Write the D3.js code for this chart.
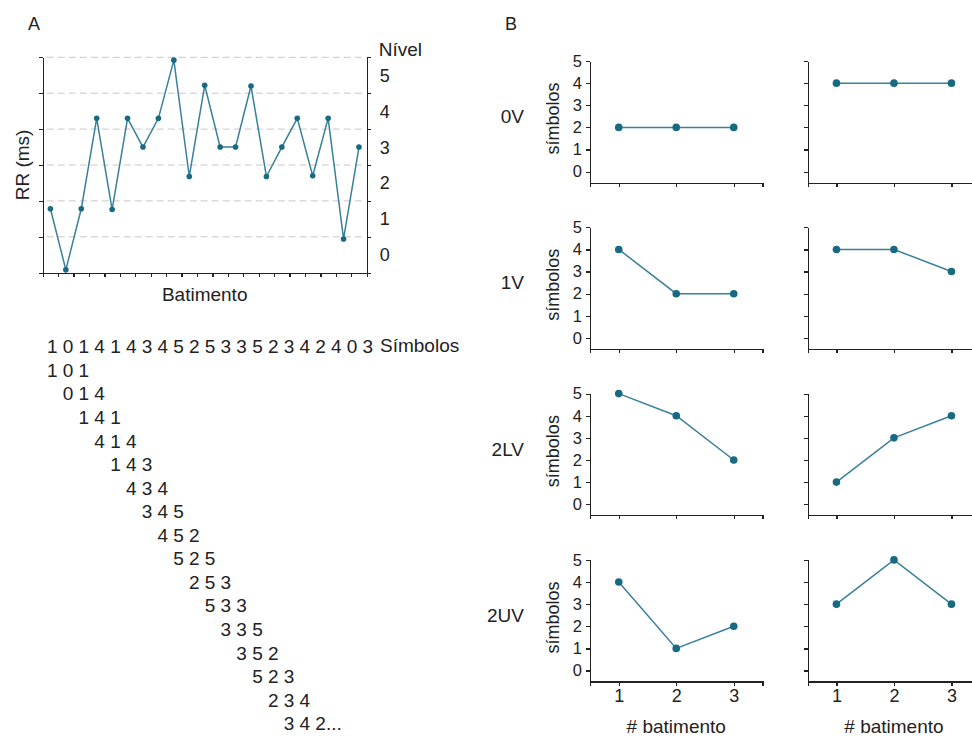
<!DOCTYPE html>
<html>
<head>
<meta charset="utf-8">
<script src="https://cdn.jsdelivr.net/npm/d3@7"></script>
<style>
  html, body { margin: 0; padding: 0; background: #fff; }
  svg { display: block; font-family: "Liberation Sans", Arial, sans-serif; }
  .axis path, .axis line { stroke: #222; stroke-width: 1.2; shape-rendering: crispEdges; }
  .axis text { fill: #222; }
</style>
</head>
<body>
<svg id="chart" width="972" height="736"></svg>
<script>
// ---- Panel A: RR intervals and their symbol levels ----
const rrValues = [689, 604, 689, 815, 688, 815, 775, 815, 896, 734, 861,
                  775, 775, 860, 734, 775, 815, 735, 815, 647, 775];   // ms
const symbols  = [1, 0, 1, 4, 1, 4, 3, 4, 5, 2, 5, 3, 3, 5, 2, 3, 4, 2, 4, 0, 3];
const levelLabels = ["0", "1", "2", "3", "4", "5"];
const rrTicks = [600, 650, 700, 750, 800, 850, 900];

// ---- Panel B: three-beat patterns per family ----
const families = ["0V", "1V", "2LV", "2UV"];
const beatTicks = [1, 2, 3];
const symbolTicks = [0, 1, 2, 3, 4, 5];
const leftPatterns  = [[2, 2, 2], [4, 2, 2], [5, 4, 2], [4, 1, 2]];
const rightPatterns = [[4, 4, 4], [4, 4, 3], [1, 3, 4], [3, 5, 3]];

const lineColor = "#3a8099";
const dotColor = "#176a82";
const textColor = "#222";

const svg = d3.select("#chart");

// Panel letters
svg.append("text").attr("x", 28).attr("y", 29.5).attr("font-size", 18)
  .attr("fill", textColor).text("A");
svg.append("text").attr("x", 505).attr("y", 29.5).attr("font-size", 18)
  .attr("fill", textColor).text("B");

// ================= Panel A =================
const aLeft = 42.7, aRight = 366.7, aTop = 57.3, aBottom = 272.7;
const xEdge = d3.scaleLinear().domain([0, rrValues.length]).range([aLeft, aRight]);
const yRR = d3.scaleLinear().domain([600, 900]).range([aBottom, aTop]);

const gA = svg.append("g");

// dashed level boundaries
gA.append("g").selectAll("line")
  .data(rrTicks.slice(1))
  .join("line")
  .attr("x1", aLeft + 4).attr("x2", aRight - 2)
  .attr("y1", d => yRR(d)).attr("y2", d => yRR(d))
  .attr("stroke", "#c8c8c8").attr("stroke-width", 1)
  .attr("stroke-dasharray", "7,4");

gA.append("g").attr("class", "axis")
  .attr("transform", `translate(${aLeft},0)`)
  .call(d3.axisLeft(yRR).tickValues(rrTicks).tickFormat("").tickSize(4).tickSizeOuter(0));

gA.append("g").attr("class", "axis")
  .attr("transform", `translate(${aRight},0)`)
  .call(d3.axisRight(yRR).tickValues(rrTicks).tickFormat("").tickSize(4).tickSizeOuter(0));

gA.append("g").attr("class", "axis")
  .attr("transform", `translate(0,${aBottom})`)
  .call(d3.axisBottom(xEdge).tickValues(d3.range(0, rrValues.length + 1))
    .tickFormat("").tickSize(4).tickSizeOuter(0));

// level numbers centred in each band
gA.append("g").selectAll("text")
  .data(levelLabels)
  .join("text")
  .attr("x", aRight + 13)
  .attr("y", (d, i) => yRR(rrTicks[i] + 25))
  .attr("dy", "0.36em")
  .attr("font-size", 18).attr("fill", textColor)
  .text(d => d);

gA.append("text").attr("x", aRight + 12).attr("y", 56)
  .attr("font-size", 19).attr("fill", textColor).text("Nível");

gA.append("text")
  .attr("transform", `translate(29,${(aTop + aBottom) / 2}) rotate(-90)`)
  .attr("text-anchor", "middle").attr("font-size", 19).attr("fill", textColor)
  .text("RR (ms)");

gA.append("text").attr("x", (aLeft + aRight) / 2).attr("y", 300.5)
  .attr("text-anchor", "middle").attr("font-size", 19).attr("fill", textColor)
  .text("Batimento");

const rrLine = d3.line()
  .x((d, i) => xEdge(i + 0.5))
  .y(d => yRR(d));

gA.append("path").datum(rrValues)
  .attr("d", rrLine).attr("fill", "none")
  .attr("stroke", lineColor).attr("stroke-width", 1.5)
  .attr("stroke-linejoin", "miter");

gA.append("g").selectAll("circle")
  .data(rrValues)
  .join("circle")
  .attr("cx", (d, i) => xEdge(i + 0.5))
  .attr("cy", d => yRR(d))
  .attr("r", 2.8).attr("fill", dotColor);

// ---- symbol sequence and sliding three-beat words ----
const seqX0 = 52.3, seqStep = 15.78, seqY0 = 353.3, seqRow = 23.56;
const seqX = d3.scaleLinear().domain([0, 1]).range([seqX0, seqX0 + seqStep]);
const seqY = d3.scaleLinear().domain([0, 1]).range([seqY0, seqY0 + seqRow]);

const gS = svg.append("g").attr("font-size", 19).attr("fill", textColor);

gS.append("g").selectAll("text")
  .data(symbols)
  .join("text")
  .attr("x", (d, i) => seqX(i)).attr("y", seqY(0))
  .attr("text-anchor", "middle")
  .text(d => d);

gS.append("text").attr("x", 380).attr("y", seqY(0) - 1).text("Símbolos");

const wordCount = 16;
const words = d3.range(wordCount).map(k => symbols.slice(k, k + 3).map((s, j) => ({ s, pos: k + j })));

const rows = gS.append("g").selectAll("g")
  .data(words)
  .join("g")
  .attr("transform", (d, k) => `translate(0,${seqY(k + 1)})`);

rows.selectAll("text")
  .data(d => d)
  .join("text")
  .attr("x", d => seqX(d.pos))
  .attr("text-anchor", "middle")
  .text(d => d.s);

gS.append("text")
  .attr("x", seqX(wordCount + 1) + 5.5)
  .attr("y", seqY(wordCount))
  .text("...");

// ================= Panel B =================
const bRowTop0 = 61, bRowStep = 166.3, bHeight = 121.7;
const bColLeft = [590, 807.7], bWidth = 172.5;

families.forEach((fam, r) => {
  const top = bRowTop0 + r * bRowStep;
  const y = d3.scaleLinear().domain([-0.5, 5]).range([top + bHeight, top]);
  const isLast = r === families.length - 1;

  [leftPatterns[r], rightPatterns[r]].forEach((pattern, c) => {
    const left = bColLeft[c];
    const x = d3.scaleLinear().domain([0.5, 3.5]).range([left, left + bWidth]);
    const g = svg.append("g");

    g.append("g").attr("class", "axis")
      .attr("transform", `translate(0,${top + bHeight})`)
      .call(d3.axisBottom(x).tickValues(beatTicks)
        .tickFormat(isLast ? d3.format("d") : "")
        .tickSize(4).tickSizeOuter(4).tickPadding(4))
      .call(a => a.selectAll("text").attr("font-size", 18));

    g.append("g").attr("class", "axis")
      .attr("transform", `translate(${left},0)`)
      .call(d3.axisLeft(y).tickValues(symbolTicks)
        .tickFormat(c === 0 ? d3.format("d") : "")
        .tickSize(4).tickSizeOuter(0).tickPadding(4))
      .call(a => a.selectAll("text").attr("font-size", 16.5));

    const line = d3.line().x((d, i) => x(beatTicks[i])).y(d => y(d));
    g.append("path").datum(pattern)
      .attr("d", line).attr("fill", "none")
      .attr("stroke", lineColor).attr("stroke-width", 1.5);

    g.selectAll("circle")
      .data(pattern)
      .join("circle")
      .attr("cx", (d, i) => x(beatTicks[i]))
      .attr("cy", d => y(d))
      .attr("r", 3.8).attr("fill", dotColor);

    if (isLast) {
      g.append("text")
        .attr("x", left + bWidth / 2).attr("y", 733)
        .attr("text-anchor", "middle").attr("font-size", 19).attr("fill", textColor)
        .text("# batimento");
    }
  });

  // family name and y title
  svg.append("text")
    .attr("x", 524).attr("y", y(2.5)).attr("dy", "0.36em")
    .attr("text-anchor", "end").attr("font-size", 19).attr("fill", textColor)
    .text(fam);

  svg.append("text")
    .attr("transform", `translate(559,${y(2.4)}) rotate(-90)`)
    .attr("text-anchor", "middle").attr("font-size", 18).attr("fill", textColor)
    .text("símbolos");
});
</script>
</body>
</html>
